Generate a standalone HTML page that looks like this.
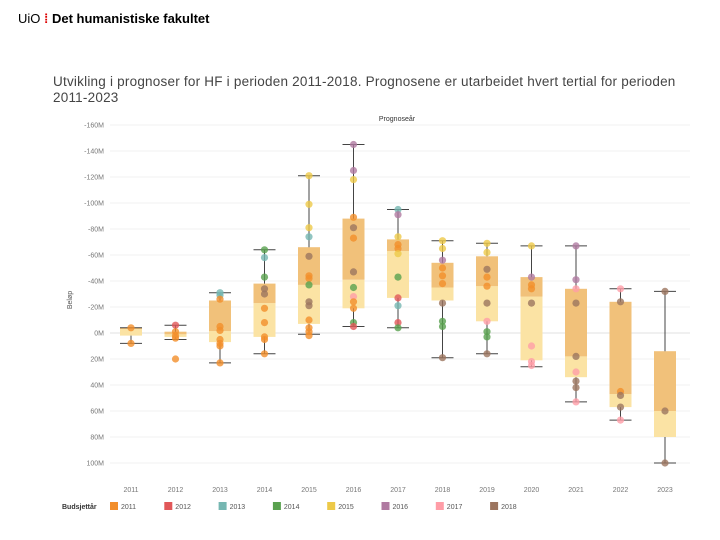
<!DOCTYPE html>
<html><head><meta charset="utf-8"><style>
body{margin:0;background:#fff;font-family:"Liberation Sans",sans-serif;}
#wrap{position:relative;width:720px;height:540px;overflow:hidden;}
.hdr{position:absolute;left:18px;top:11px;font-size:13px;color:#000;}
.title{position:absolute;left:53px;top:74px;font-size:13.5px;color:#444;line-height:16px;width:660px;letter-spacing:0.22px;white-space:nowrap;}
</style></head><body>
<div id="wrap">
<div class="hdr"><span style="font-weight:normal">UiO</span> <span style="color:#d00;font-weight:bold">⁞</span> <b>Det humanistiske fakultet</b></div>
<div class="title">Utvikling i prognoser for HF i perioden 2011-2018. Prognosene er utarbeidet hvert tertial for perioden<br>2011-2023</div>
<svg id="chart" width="720" height="540" style="position:absolute;left:0;top:0"></svg>
</div>
<script>
const categories=["2011","2012","2013","2014","2015","2016","2017","2018","2019","2020","2021","2022","2023"];
const q1=[-2,-3,-7,-3,7,19,27,25,9,-21,-34,-57,-80];
const medians=[3,-1,1.5,23,37,41,63,35,36,28,-18,-47,-60];
const q3=[4,1,25,38,66,88,72,54,59,43,34,24,-14];
const whiskerLow=[-8,-5,-23,-16,-1,5,4,-19,-16,-26,-53,-67,-100];
const whiskerHigh=[4,6,31,64,121,145,95,71,69,67,67,34,32];
const pointValues=[[4,-8],[6,1,-2,-4,-20],[31,29,26,5,2,-5,-8,-10,-23],[64,58,43,34,30,19,8,-3,-5,-16],[121,99,81,74,59,44,42,37,24,21,10,4,1,-2],[145,125,118,89,81,73,47,35,28,24,19,8,5],[95,91,74,68,65,61,43,27,21,8,4],[71,65,56,50,44,38,23,9,5,-19],[69,62,49,43,36,23,9,1,-3,-16],[67,43,37,34,23,-10,-22,-25],[67,41,34,23,-18,-30,-37,-42,-53],[34,24,-45,-48,-57,-67],[32,-60,-100]];
const pointSeries=[[0,0],[1,0,0,0,0],[2,2,0,0,0,0,0,0,0],[3,2,3,7,7,0,0,0,0,0],[4,4,4,2,7,0,0,3,7,7,0,0,0,0],[5,5,4,0,7,0,7,3,6,0,0,3,1],[2,5,4,0,0,4,3,1,2,1,3],[4,4,5,0,0,0,7,3,3,7],[4,4,7,0,0,7,6,3,3,7],[4,5,0,0,7,6,6,6],[5,5,6,7,7,6,7,7,6],[6,7,0,7,7,6],[7,7,7]];
const yTicks=[160,140,120,100,80,60,40,20,0,-20,-40,-60,-80,-100];
const legendYears=["2011","2012","2013","2014","2015","2016","2017","2018"];
const colors=["#f28e2b","#e15759","#76b7b2","#59a14f","#edc948","#b07aa1","#ff9da7","#9c755f"];

const svg=document.getElementById('chart');const NS="http://www.w3.org/2000/svg";
function mk(t,a,p){const e=document.createElementNS(NS,t);for(const k in a)e.setAttribute(k,a[k]);(p||svg).appendChild(e);return e;}
const y=v=>333-v*1.3;
const x=i=>131+i*44.5;
const F='"Liberation Sans",sans-serif';
yTicks.forEach(v=>{
 const g=mk('line',{x1:110,x2:690,y1:y(v),y2:y(v),stroke:v===0?'#e2e2e2':'#f2f2f2','stroke-width':1});
 
 
 const t=mk('text',{x:104,y:y(v)+2.5,'text-anchor':'end','font-size':7,fill:'#777','font-family':F});
 t.textContent=(v>0?'-':'')+Math.abs(v)+'M';
 
 
});
const yt=mk('text',{x:72,y:300,'text-anchor':'middle','font-size':7,fill:'#555','font-family':F,transform:'rotate(-90 72 300)'});
yt.textContent='Beløp';


const pt=mk('text',{x:397,y:121,'text-anchor':'middle','font-size':7,fill:'#333','font-family':F});
pt.textContent='Prognoseår';


categories.forEach((c,i)=>{
 const cx=x(i),w=22;
 const b1=mk('rect',{x:cx-w/2,y:y(medians[i]),width:w,height:Math.max(0,y(q1[i])-y(medians[i])),fill:'#fbe3a4'});
 
 
 const b2=mk('rect',{x:cx-w/2,y:y(q3[i]),width:w,height:Math.max(0,y(medians[i])-y(q3[i])),fill:'#f1c17a'});
 
 
 const wl=mk('line',{x1:cx,x2:cx,y1:y(whiskerHigh[i]),y2:y(q3[i]),stroke:'#444','stroke-width':1});
 
 
 const wl2=mk('line',{x1:cx,x2:cx,y1:y(q1[i]),y2:y(whiskerLow[i]),stroke:'#444','stroke-width':1});
 
 
 [whiskerHigh[i],whiskerLow[i]].forEach(v=>{
  const cap=mk('line',{x1:cx-11,x2:cx+11,y1:y(v),y2:y(v),stroke:'#444','stroke-width':1});
  
  
 });
 pointValues[i].forEach((v,j)=>{
  const p=mk('circle',{cx:cx,cy:y(v),r:3.6,fill:colors[pointSeries[i][j]],'fill-opacity':0.8});
  
  
 });
 const xl=mk('text',{x:cx,y:492,'text-anchor':'middle','font-size':7,fill:'#777','font-family':F});
 xl.textContent=c;
 
 
});
const lt=mk('text',{x:62,y:509,'font-size':7,'font-weight':'bold',fill:'#333','font-family':F});
lt.textContent='Budsjettår';


legendYears.forEach((c,i)=>{
 const lx=110+i*54.3;
 const r=mk('rect',{x:lx,y:502,width:8,height:8,fill:colors[i]});
 
 
 const t=mk('text',{x:lx+11,y:509,'font-size':7,fill:'#555','font-family':F});
 t.textContent=c;
 
 
});
</script>
</body></html>
